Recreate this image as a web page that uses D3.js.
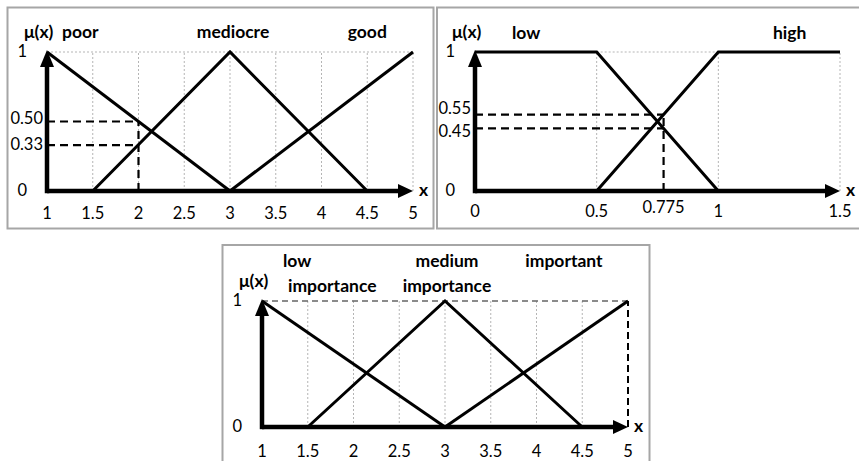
<!DOCTYPE html>
<html>
<head>
<meta charset="utf-8">
<script src="https://cdn.jsdelivr.net/npm/d3@7"></script>
<style>
  body { margin: 0; background: #fff; }
  svg { display: block; font-family: Lato, "Open Sans", sans-serif; }
  .tick-label { font-size: 16.5px; fill: #000; }
  .set-label { font-size: 17.5px; font-weight: bold; fill: #000; }
</style>
</head>
<body>
<svg id="chart" width="859" height="461"></svg>
<script>
// ---- data ----
// panel 1: quality on a 1..5 scale
var qualityTicks = [1, 1.5, 2, 2.5, 3, 3.5, 4, 4.5, 5]
var qualityNames = ["poor", "mediocre", "good"]
var qualityX = [[1, 3], [1.5, 3, 4.5], [3, 5]]
var qualityY = [[1, 0], [0, 1, 0], [0, 1]]
var qualityProbeX = 2
var qualityProbeY = [0.50, 0.33]

// panel 2: low / high on 0..1.5
var levelTicks = [0, 0.5, 1, 1.5]
var levelNames = ["low", "high"]
var levelX = [[0, 0.5, 1], [0.5, 1, 1.5]]
var levelY = [[1, 1, 0], [0, 1, 1]]
var levelProbeX = 0.775
var levelProbeY = [0.55, 0.45]

// panel 3: importance on a 1..5 scale
var importTicks = [1, 1.5, 2, 2.5, 3, 3.5, 4, 4.5, 5]
var importNames = [["low", "importance"], ["medium", "importance"], ["important"]]
var importX = [[1, 3], [1.5, 3, 4.5], [3, 5]]
var importY = [[1, 0], [0, 1, 0], [0, 1]]

var svg = d3.select("#chart")

// gray frames round each picture
svg.append("rect").attr("x", 7.5).attr("y", 7.5).attr("width", 426).attr("height", 221)
  .attr("fill", "none").attr("stroke", "#a6a6a6").attr("stroke-width", 2)
svg.append("rect").attr("x", 437).attr("y", 7.5).attr("width", 440).attr("height", 221)
  .attr("fill", "none").attr("stroke", "#a6a6a6").attr("stroke-width", 2)
svg.append("rect").attr("x", 222.5).attr("y", 245).attr("width", 427).attr("height", 240)
  .attr("fill", "none").attr("stroke", "#a6a6a6").attr("stroke-width", 2)

function drawPanel(p) {
  var x = d3.scaleLinear().domain(p.xDomain).range(p.xRange)
  var y = d3.scaleLinear().domain([0, 1]).range(p.yRange)
  var g = svg.append("g")
  var x0 = p.xRange[0], x1 = p.xRange[1], y0 = p.yRange[0], y1 = p.yRange[1]

  // light dotted grid
  p.gridX.forEach(function(v) {
    g.append("line").attr("x1", x(v)).attr("x2", x(v)).attr("y1", y(0)).attr("y2", y(1))
      .attr("stroke", "#b5b5b5").attr("stroke-width", 1).attr("stroke-dasharray", "2,2")
  })
  g.append("line").attr("x1", x(p.gridTop[0])).attr("x2", x(p.gridTop[1]))
    .attr("y1", y(1)).attr("y2", y(1))
    .attr("stroke", p.topDashed ? "#666" : "#b5b5b5").attr("stroke-width", p.topDashed ? 1.5 : 1)
    .attr("stroke-dasharray", p.topDashed ? "6,4" : "2,2")

  // dashed probe lines
  if (p.probeX != null) {
    p.probeY.forEach(function(v) {
      g.append("line").attr("x1", x0).attr("x2", x(p.probeX)).attr("y1", y(v)).attr("y2", y(v))
        .attr("stroke", "#000").attr("stroke-width", 2.2).attr("stroke-dasharray", "8,5")
    })
    g.append("line").attr("x1", x(p.probeX)).attr("x2", x(p.probeX))
      .attr("y1", y(0)).attr("y2", y(d3.max(p.probeY)))
      .attr("stroke", "#000").attr("stroke-width", 2.2).attr("stroke-dasharray", "8,5")
  }
  if (p.rightDashed) {
    g.append("line").attr("x1", x1).attr("x2", x1).attr("y1", y(0)).attr("y2", y(1))
      .attr("stroke", "#000").attr("stroke-width", 2).attr("stroke-dasharray", "7,4")
  }

  // membership functions
  var line = d3.line().x(function(d) { return x(d[0]) }).y(function(d) { return y(d[1]) })
  p.xs.forEach(function(xs, i) {
    var pts = xs.map(function(v, j) { return [v, p.ys[i][j]] })
    g.append("path").attr("d", line(pts)).attr("fill", "none")
      .attr("stroke", "#000").attr("stroke-width", 3)
  })

  // axes with arrow heads
  g.append("line").attr("x1", x0).attr("x2", x1 - 12).attr("y1", y0).attr("y2", y0)
    .attr("stroke", "#000").attr("stroke-width", 4.5)
  g.append("path").attr("d", "M" + (x1 - 15) + "," + (y0 - 7) + "L" + x1 + "," + y0 + "L" + (x1 - 15) + "," + (y0 + 7) + "Z")
    .attr("fill", "#000")
  g.append("line").attr("x1", x0).attr("x2", x0).attr("y1", y0 + 2.2).attr("y2", y1 + 12)
    .attr("stroke", "#000").attr("stroke-width", 4.5)
  g.append("path").attr("d", "M" + (x0 - 7) + "," + (y1 + 15) + "L" + x0 + "," + (y1 - 2) + "L" + (x0 + 7) + "," + (y1 + 15) + "Z")
    .attr("fill", "#000")
  g.append("text").attr("class", "set-label").attr("x", x1 + 6).attr("y", y0 + 5).text("x")

  // tick labels
  p.ticks.forEach(function(v) {
    g.append("text").attr("class", "tick-label").attr("x", x(v)).attr("y", y0 + p.tickDy)
      .attr("text-anchor", "middle").text(v)
  })
  if (p.probeX != null && p.ticks.indexOf(p.probeX) < 0) {
    g.append("text").attr("class", "tick-label").attr("x", x(p.probeX)).attr("y", y0 + p.tickDy - 4)
      .attr("text-anchor", "middle").text(p.probeX)
  }
  ;[0, 1].forEach(function(v) {
    g.append("text").attr("class", "tick-label").attr("x", x0 - 20).attr("y", y(v) + 5)
      .attr("text-anchor", "end").text(v)
  })
  if (p.probeX != null) {
    p.probeY.forEach(function(v, i) {
      g.append("text").attr("class", "tick-label").attr("x", x0 - 4).attr("y", y(v) + 5 + p.probeDy[i])
        .attr("text-anchor", "end").text(d3.format(".2f")(v))
    })
  }

  // axis title and set names
  g.append("text").attr("class", "set-label").attr("x", x0 - 23).attr("y", p.muY).text("μ(x)")
  p.names.forEach(function(n, i) {
    var lines = Array.isArray(n) ? n : [n]
    var t = g.append("text").attr("class", "set-label")
      .attr("y", p.nameY).attr("text-anchor", p.nameAnchor[i])
    lines.forEach(function(s, k) {
      t.append("tspan").attr("x", x(p.nameX[i]) + p.nameDx[i] + (p.lineDx ? p.lineDx[i][k] : 0))
        .attr("dy", k ? 25 : 0).text(s)
    })
  })
}

drawPanel({
  xDomain: [1, 5], xRange: [47, 413], yRange: [191, 52],
  ticks: qualityTicks, gridX: [1.5, 2, 2.5, 3, 3.5, 4, 4.5, 5], gridTop: [1, 5],
  xs: qualityX, ys: qualityY, names: qualityNames,
  nameX: [1, 3, 4.5], nameDx: [15, 3, 0], nameAnchor: ["start", "middle", "middle"],
  nameY: 38, muY: 38, tickDy: 28,
  probeX: qualityProbeX, probeY: qualityProbeY, probeDy: [-3, 0]
})

drawPanel({
  xDomain: [0, 1.5], xRange: [475, 840], yRange: [191, 52],
  ticks: levelTicks, gridX: [0.5, 1, 1.5], gridTop: [0.5, 1],
  xs: levelX, ys: levelY, names: levelNames,
  nameX: [0, 1.5], nameDx: [37, -67], nameAnchor: ["start", "start"],
  nameY: 39, muY: 38, tickDy: 26,
  probeX: levelProbeX, probeY: levelProbeY, probeDy: [-6, 4]
})

drawPanel({
  xDomain: [1, 5], xRange: [262, 628], yRange: [427, 301],
  ticks: importTicks, gridX: [1.5, 2, 2.5, 3, 3.5, 4, 4.5], gridTop: [1, 5],
  topDashed: true, rightDashed: true,
  xs: importX, ys: importY, names: importNames,
  nameX: [1, 3, 4.3], nameDx: [21, 2, 0], lineDx: [[0, 5], [0, 0], [0]],
  nameAnchor: ["start", "middle", "middle"],
  nameY: 267, muY: 287, tickDy: 30,
  probeX: null, probeY: []
})
</script>
</body>
</html>
